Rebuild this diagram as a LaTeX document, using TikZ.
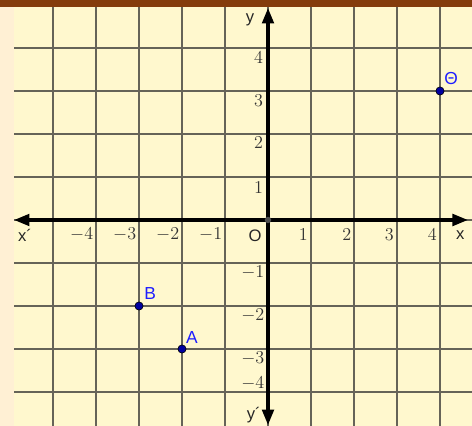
\documentclass[tikz,border=0pt]{standalone}
\usepackage{fontspec}
\newfontfamily\namefont{Liberation Sans}
\usetikzlibrary{arrows.meta}
\definecolor{barbrown}{RGB}{132,60,12}
\definecolor{paneyellow}{RGB}{255,248,206}
\definecolor{edgecream}{RGB}{255,240,212}
\definecolor{pointblue}{RGB}{0,0,160}
\definecolor{labelblue}{RGB}{30,30,255}

\begin{document}
\begin{tikzpicture}[
    grid_style/.style={draw=black!85, opacity=0.7, line width=0.75pt},
    axis_style/.style={draw=black, line width=2.1pt,
        {Triangle[length=0.36cm,width=0.27cm]}-{Triangle[length=0.36cm,width=0.27cm]}},
    num_style/.style={inner sep=0pt, anchor=east, text=black!80, font=\fontsize{12.3}{14}\selectfont},
    name_style/.style={inner sep=0pt, text=black!85, font=\namefont\fontsize{11}{13}\selectfont},
    point_style/.style={circle, draw=black, fill=pointblue, line width=0.4pt, inner sep=0pt, minimum size=0.19cm},
    point_label/.style={inner sep=0pt, text=labelblue, font=\namefont\fontsize{11.5}{13}\selectfont}]

    % page and background
    \useasboundingbox (-6.233,-4.791) rectangle (4.744,5.116);
    \fill[edgecream] (-6.233,-4.791) rectangle (-5.907,4.953);
    \fill[paneyellow] (-5.907,-4.791) rectangle (4.744,4.953);
    \fill[barbrown] (-6.233,4.953) rectangle (4.744,5.116);

    % grid
    \draw[grid_style] (-5.907,-4.791) grid (4.744,4.953);

    % axes
    \coordinate (xneg) at (-5.907,0);
    \coordinate (xpos) at (4.65,0);
    \coordinate (yneg) at (0,-4.77);
    \coordinate (ypos) at (0,4.93);
    \draw[axis_style] (xneg) -- (xpos);
    \draw[axis_style] (yneg) -- (ypos);
    \node[circle, fill=black!70, inner sep=0pt, minimum size=0.15cm] (orig) at (0,0) {};

    % axis names
    \node[name_style] (xn) at (-5.65,-0.35) {x´};
    \node[name_style] (xp) at (4.47,-0.36) {x};
    \node[name_style] (yp) at (-0.42,4.65) {y};
    \node[name_style] (yn) at (-0.33,-4.53) {y´};
    \node[name_style] (on) at (-0.30,-0.37) {O};

    % numbers on x
    \node[num_style] (xm4) at (-4.06,-0.33) {$-4$};
    \node[num_style] (xm3) at (-3.06,-0.33) {$-3$};
    \node[num_style] (xm2) at (-2.06,-0.33) {$-2$};
    \node[num_style] (xm1) at (-1.06,-0.33) {$-1$};
    \node[num_style] (x1) at (0.93,-0.33) {$1$};
    \node[num_style] (x2) at (1.94,-0.33) {$2$};
    \node[num_style] (x3) at (2.93,-0.33) {$3$};
    \node[num_style] (x4) at (3.93,-0.33) {$4$};

    % numbers on y
    \node[num_style] (y4) at (-0.11,3.78) {$4$};
    \node[num_style] (y3) at (-0.11,2.77) {$3$};
    \node[num_style] (y2) at (-0.11,1.79) {$2$};
    \node[num_style] (y1) at (-0.11,0.75) {$1$};
    \node[num_style] (ym1) at (-0.08,-1.21) {$-1$};
    \node[num_style] (ym2) at (-0.08,-2.23) {$-2$};
    \node[num_style] (ym3) at (-0.08,-3.21) {$-3$};
    \node[num_style] (ym4) at (-0.08,-3.81) {$-4$};

    % points
    \node[point_style] (th) at (4,3) {};
    \node[point_style] (b) at (-3,-2) {};
    \node[point_style] (a) at (-2,-3) {};
    \node[point_label] (thl) at (4.26,3.28) {Θ};
    \node[point_label] (bl) at (-2.74,-1.72) {B};
    \node[point_label] (al) at (-1.77,-2.74) {A};
\end{tikzpicture}
\end{document}
